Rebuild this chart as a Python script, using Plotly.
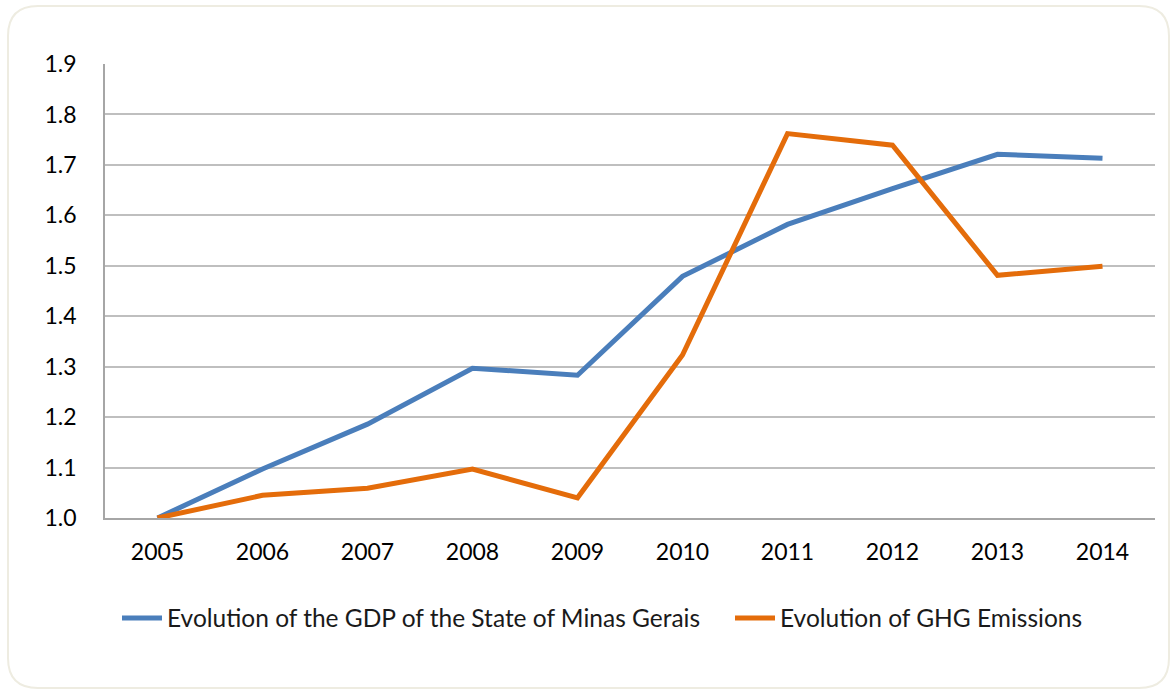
import plotly.graph_objects as go

years = ["2005", "2006", "2007", "2008", "2009", "2010", "2011", "2012", "2013", "2014"]
gdp = [1.000, 1.097, 1.186, 1.297, 1.283, 1.479, 1.582, 1.653, 1.721, 1.713]
ghg = [1.000, 1.045, 1.059, 1.097, 1.040, 1.323, 1.762, 1.739, 1.481, 1.499]
gdp_name = "Evolution of the GDP of the State of Minas Gerais"
ghg_name = "Evolution of GHG Emissions"

W, H = 1176, 690
L, R, T, B = 105, 21, 64, 172
pw, ph = W - L - R, H - T - B

def px(x):
    return (x - L) / pw

def py(y):
    return (H - B - y) / ph

fig = go.Figure()
fig.add_trace(go.Scatter(x=years, y=gdp, mode="lines", name=gdp_name, legend="legend",
                         line=dict(color="#4A7EBB", width=5)))
fig.add_trace(go.Scatter(x=years, y=ghg, mode="lines", name=ghg_name, legend="legend2",
                         line=dict(color="#E46C0A", width=5)))

# rounded outer frame
x0, y0, x1, y1, r = 8, 6, 1169, 688, 30
path = (f"M {px(x0+r)},{py(y0)} L {px(x1-r)},{py(y0)} Q {px(x1)},{py(y0)} {px(x1)},{py(y0+r)} "
        f"L {px(x1)},{py(y1-r)} Q {px(x1)},{py(y1)} {px(x1-r)},{py(y1)} "
        f"L {px(x0+r)},{py(y1)} Q {px(x0)},{py(y1)} {px(x0)},{py(y1-r)} "
        f"L {px(x0)},{py(y0+r)} Q {px(x0)},{py(y0)} {px(x0+r)},{py(y0)} Z")
fig.add_shape(type="path", path=path, xref="paper", yref="paper",
              line=dict(color="#EEECE1", width=2), layer="below")

font_family = "Lato, 'Noto Sans', sans-serif"
leg_common = dict(orientation="h", y=py(618), yanchor="middle", xanchor="left",
                  font=dict(size=24.5, color="#1a1a1a"), itemwidth=40, bgcolor="rgba(0,0,0,0)")
fig.update_layout(
    width=W, height=H,
    margin=dict(l=L, r=R, t=T, b=B),
    paper_bgcolor="white", plot_bgcolor="white",
    font=dict(family=font_family, size=22, color="#1a1a1a"),
    showlegend=True,
    legend=dict(x=px(117), **leg_common),
    legend2=dict(x=px(730), **leg_common),
    xaxis=dict(type="category", showgrid=False, showline=True, linecolor="#A6A6A6", linewidth=1.5,
               ticks="", ticklabelstandoff=13, tickfont=dict(size=23, color="#000000"),
               range=[-0.5, 9.5]),
    yaxis=dict(range=[1.0, 1.9], dtick=0.1, tick0=1.0, tickformat=".1f", showgrid=True,
               gridcolor="#BFBFBF", gridwidth=1.5, showline=True, linecolor="#A6A6A6", linewidth=1.5,
               ticks="", ticklabelstandoff=22, tickfont=dict(size=23, color="#000000"), zeroline=False),
)
fig.write_html("out.html", config={"displayModeBar": False},
               post_script="document.body.style.margin='0';document.body.style.overflow='hidden';")
